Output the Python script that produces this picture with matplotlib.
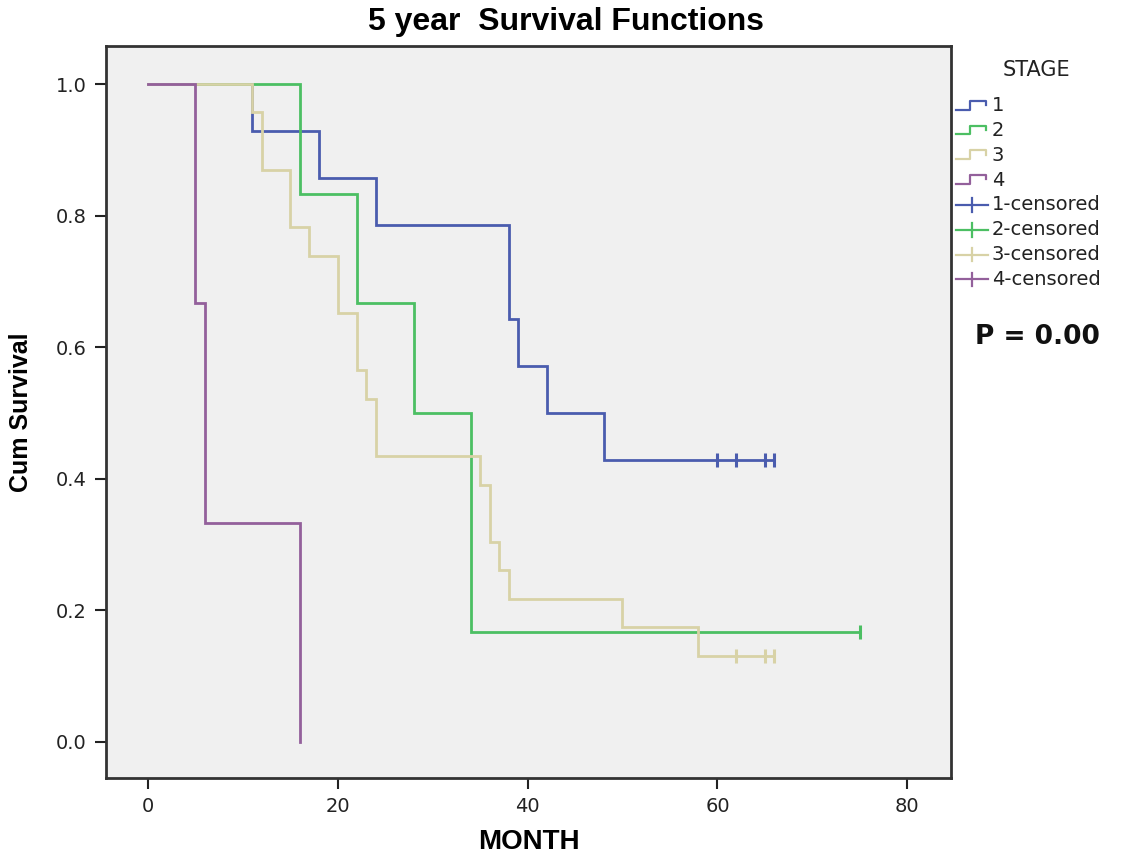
import matplotlib
matplotlib.use("Agg")
import matplotlib.pyplot as plt
from matplotlib.lines import Line2D
from matplotlib.legend_handler import HandlerBase

plt.rcParams["font.family"] = ["DejaVu Sans"]

# ---------------- data ----------------
stage_labels = ["1", "2", "3", "4"]

stage1_times = [0, 11, 18, 24, 38, 39, 42, 48]
stage1_surv = [1.0, 0.929, 0.857, 0.786, 0.643, 0.571, 0.500, 0.429]
stage1_censored = [60, 62, 65, 66]

stage2_times = [0, 16, 22, 28, 34]
stage2_surv = [1.0, 0.833, 0.667, 0.500, 0.167]
stage2_censored = [75]

stage3_times = [0, 11, 12, 15, 17, 20, 22, 23, 24, 35, 36, 37, 38, 50, 58]
stage3_surv = [1.0, 0.957, 0.870, 0.783, 0.739, 0.652, 0.565, 0.522, 0.435,
               0.391, 0.304, 0.261, 0.217, 0.174, 0.130]
stage3_censored = [62, 65, 66]

stage4_times = [0, 5, 6, 16]
stage4_surv = [1.0, 0.667, 0.333, 0.0]
stage4_censored = []

x_ticks = [0, 20, 40, 60, 80]
y_ticks = [0.0, 0.2, 0.4, 0.6, 0.8, 1.0]

# ---------------- style ----------------
colors = ["#4a5cae", "#4cbf63", "#d8d2a6", "#93609b"]
W, H = 1130, 861
fig = plt.figure(figsize=(W / 100, H / 100), dpi=100)
fig.patch.set_facecolor("white")

ax_left, ax_right, ax_top, ax_bottom = 106, 951, 46, 778
ax = fig.add_axes([ax_left / W, 1 - ax_bottom / H,
                   (ax_right - ax_left) / W, (ax_bottom - ax_top) / H])
ax.set_facecolor("#f0f0f0")

series = [
    (stage1_times, stage1_surv, stage1_censored),
    (stage2_times, stage2_surv, stage2_censored),
    (stage3_times, stage3_surv, stage3_censored),
    (stage4_times, stage4_surv, stage4_censored),
]

for i, (t, s, c) in enumerate(series):
    end = max(c) if c else t[-1]
    tt = list(t) + ([end] if end > t[-1] else [])
    ss = list(s) + ([s[-1]] if end > t[-1] else [])
    ax.step(tt, ss, where="post", color=colors[i], lw=2.0, zorder=2 + i,
            solid_joinstyle="miter")
    if c:
        ax.plot(c, [s[-1]] * len(c), ls="none", marker="|", ms=10, mew=2.2,
                color=colors[i], zorder=2 + i)

ax.set_xlim(-4.4, 84.6)
ax.set_ylim(-0.055, 1.058)
ax.set_xticks(x_ticks)
ax.set_xticklabels([str(v) for v in x_ticks])
ax.set_yticks(y_ticks)
ax.set_yticklabels([f"{v:.1f}" for v in y_ticks])
ax.tick_params(direction="out", length=8, width=1.5, color="#222222",
               labelsize=14, labelcolor="#222222", pad=6)
for sp in ax.spines.values():
    sp.set_linewidth(2)
    sp.set_color("#333333")

ax.set_xlabel("MONTH", fontsize=20, fontweight="bold",
              family=["Liberation Sans", "DejaVu Sans"], labelpad=9)
ax.set_ylabel("Cum Survival", fontsize=18, fontweight="bold",
              family=["Liberation Sans", "DejaVu Sans"], labelpad=16)
fig.text(566 / W, 1 - 22 / H, "5 year  Survival Functions", ha="center", va="center",
         fontsize=23, fontweight="bold",
         family=["Liberation Sans", "DejaVu Sans"])


# ---------------- legend ----------------
class StepHandler(HandlerBase):
    def create_artists(self, legend, orig_handle, xdescent, ydescent,
                       width, height, fontsize, trans):
        x0 = -xdescent
        y0 = -ydescent
        xs = [x0, x0 + 0.45 * width, x0 + 0.45 * width, x0 + 0.95 * width, x0 + 0.95 * width]
        ys = [y0 + 0.1 * height, y0 + 0.1 * height, y0 + 0.75 * height,
              y0 + 0.75 * height, y0 + 0.45 * height]
        ln = Line2D(xs, ys, color=orig_handle.get_color(), lw=1.6)
        ln.set_transform(trans)
        return [ln]


class CensHandler(HandlerBase):
    def create_artists(self, legend, orig_handle, xdescent, ydescent,
                       width, height, fontsize, trans):
        x0 = -xdescent
        y0 = -ydescent
        ln = Line2D([x0, x0 + width], [y0 + 0.4 * height] * 2,
                    color=orig_handle.get_color(), lw=1.6)
        tk = Line2D([x0 + 0.5 * width] * 2, [y0 - 0.1 * height, y0 + 0.9 * height],
                    color=orig_handle.get_color(), lw=1.6)
        ln.set_transform(trans)
        tk.set_transform(trans)
        return [ln, tk]


step_handles = [Line2D([], [], color=c) for c in colors]
cens_handles = [Line2D([], [], color=c, marker="|") for c in colors]
handles = step_handles + cens_handles
labels = stage_labels + [f"{l}-censored" for l in stage_labels]
handler_map = {h: StepHandler() for h in step_handles}
handler_map.update({h: CensHandler() for h in cens_handles})

leg = fig.legend(handles, labels, handler_map=handler_map,
                 loc="upper left", bbox_to_anchor=(956 / W, 1 - 96 / H),
                 frameon=False, prop={"family": "DejaVu Sans", "size": 14},
                 handlelength=1.65, handletextpad=0.2, labelspacing=0.3,
                 borderpad=0, borderaxespad=0)
for txt in leg.get_texts():
    txt.set_color("#222222")

fig.text(1036 / W, 1 - 70 / H, "STAGE", ha="center", va="center",
         fontsize=15, color="#222222")

fig.text(975 / W, 1 - 337 / H, "P = 0.00", ha="left", va="center",
         fontsize=19, fontweight="bold", color="#111111")

fig.savefig("out.png", dpi=100)
